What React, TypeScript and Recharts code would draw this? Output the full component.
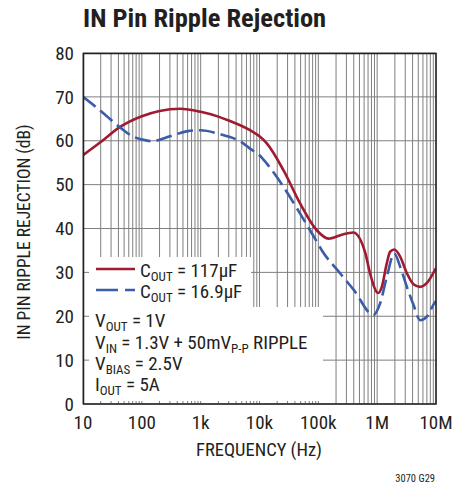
import { LineChart, Line, XAxis, YAxis, CartesianGrid } from "recharts";

const redFreq = [10, 20, 42, 100, 200, 450, 1000, 2000, 3000, 6900, 10000, 13300, 25500, 49000, 94000, 149000, 250000, 390000, 630000, 756000, 1040000, 1200000, 1460000, 1660000, 1950000, 2460000, 3200000, 4140000, 5400000, 7000000, 10000000];
const redDb = [56.7, 59.7, 63.1, 65.6, 66.8, 67.3, 66.6, 65.5, 64.6, 62.4, 61, 59.4, 53.3, 45.7, 39.6, 37.7, 38.6, 39.1, 34.4, 29.8, 25.3, 26.7, 32.1, 34.7, 35.2, 33.6, 29.8, 27.3, 26.7, 27.6, 31];

const blueFreq = [10, 20, 42, 70, 100, 147, 300, 600, 1000, 2000, 5300, 6900, 10000, 13300, 25500, 49000, 94000, 115000, 234000, 400000, 865000, 1120000, 1460000, 1950000, 2460000, 3200000, 4140000, 5400000, 7000000, 9000000, 10000000];
const blueDb = [70, 66.8, 63.1, 61, 60.3, 59.9, 61, 62.2, 62.4, 61.6, 59.4, 58.2, 56.7, 54.8, 49.5, 43.4, 37, 35, 29.8, 26, 20.3, 22.9, 29, 34.3, 31.3, 26.7, 22.6, 19.1, 19.9, 22.6, 23.5];

const decades = [10, 100, 1000, 10000, 100000, 1000000, 10000000];
const decadeLabels = ["10", "100", "1k", "10k", "100k", "1M", "10M"];
const yTicks = [0, 10, 20, 30, 40, 50, 60, 70, 80];

const xTicks: number[] = [];
decades.forEach((d, i) => {
  if (i === decades.length - 1) {
    xTicks.push(d);
    return;
  }
  for (let m = 1; m < 10; m++) xTicks.push(d * m);
});

const redData = redFreq.map((f, i) => ({ f, db: redDb[i] }));
const blueData = blueFreq.map((f, i) => ({ f, db: blueDb[i] }));

const RED = "#9e1b32";
const BLUE = "#3b5ca8";
const INK = "#231f20";
const FONT = "'Liberation Sans Narrow', 'Roboto Condensed', 'DejaVu Sans Condensed', sans-serif";

const fmtX = (v: number) => {
  const i = decades.indexOf(v);
  return i >= 0 ? decadeLabels[i] : "";
};

function Sub({ main, sub, rest }: { main: string; sub: string; rest: string }) {
  return (
    <>
      <tspan>{main}</tspan>
      <tspan fontSize={13} dy={4}>{sub}</tspan>
      <tspan dy={-4}>{rest}</tspan>
    </>
  );
}

export default function App() {
  return (
    <div style={{ position: "absolute", left: 0, top: 0, width: 469, height: 487, background: "#fff" }}>
      <LineChart width={469} height={487} data={redData} margin={{ top: 53, right: 33, bottom: 0, left: 0 }}>
        <CartesianGrid stroke="#7f7f7f" strokeWidth={1} />
        <XAxis
          dataKey="f"
          type="number"
          scale="log"
          domain={[10, 10000000]}
          ticks={xTicks}
          interval={0}
          tickFormatter={fmtX}
          height={83}
          tickLine={false}
          axisLine={false}
          tickSize={0}
          tickMargin={12}
          tick={{ fill: INK, fontSize: 19, fontFamily: FONT }}
          allowDataOverflow
        />
        <YAxis
          type="number"
          domain={[0, 80]}
          ticks={yTicks}
          interval={0}
          width={83}
          tickLine={false}
          axisLine={false}
          tickSize={0}
          tickMargin={9}
          tick={{ fill: INK, fontSize: 19, fontFamily: FONT }}
        />
        <Line data={redData} dataKey="db" type="monotone" stroke={RED} strokeWidth={2.6} dot={false} isAnimationActive={false} />
        <Line data={blueData} dataKey="db" type="monotone" stroke={BLUE} strokeWidth={2.6} strokeDasharray="16 6" dot={false} isAnimationActive={false} />
      </LineChart>
      <svg width={469} height={487} style={{ position: "absolute", left: 0, top: 0, pointerEvents: "none" }} fontFamily={FONT} fill={INK}>
        <rect x={89} y={257} width={162} height={50} fill="#fff" />
        <rect x={89} y={307} width={234} height={94} fill="#fff" />
        <rect x={83.5} y={53.5} width={352.5} height={350.5} fill="none" stroke={INK} strokeWidth={1.5} />

        <text x={83} y={27} fontSize={26.5} fontWeight="bold">IN Pin Ripple Rejection</text>

        <line x1={96} y1={269} x2={135} y2={269} stroke={RED} strokeWidth={2.6} />
        <line x1={96} y1={290} x2={135} y2={290} stroke={BLUE} strokeWidth={2.6} strokeDasharray="22 7" />
        <text x={140} y={277} fontSize={19}><Sub main="C" sub="OUT" rest=" = 117µF" /></text>
        <text x={140} y={298} fontSize={19}><Sub main="C" sub="OUT" rest=" = 16.9µF" /></text>

        <text x={95} y={327} fontSize={19}><Sub main="V" sub="OUT" rest=" = 1V" /></text>
        <text x={95} y={349} fontSize={19}>
          <tspan>V</tspan>
          <tspan fontSize={13} dy={4}>IN</tspan>
          <tspan dy={-4}> = 1.3V + 50mV</tspan>
          <tspan fontSize={13} dy={4}>P-P</tspan>
          <tspan dy={-4}> RIPPLE</tspan>
        </text>
        <text x={95} y={370} fontSize={19}><Sub main="V" sub="BIAS" rest=" = 2.5V" /></text>
        <text x={95} y={391} fontSize={19}><Sub main="I" sub="OUT" rest=" = 5A" /></text>

        <text x={259} y={456} fontSize={18.5} textAnchor="middle">FREQUENCY (Hz)</text>
        <text x={0} y={0} fontSize={17.5} textAnchor="middle" transform="translate(30 232) rotate(-90)">IN PIN RIPPLE REJECTION (dB)</text>
        <text x={435} y={482} fontSize={10.5} textAnchor="end">3070 G29</text>
      </svg>
    </div>
  );
}
